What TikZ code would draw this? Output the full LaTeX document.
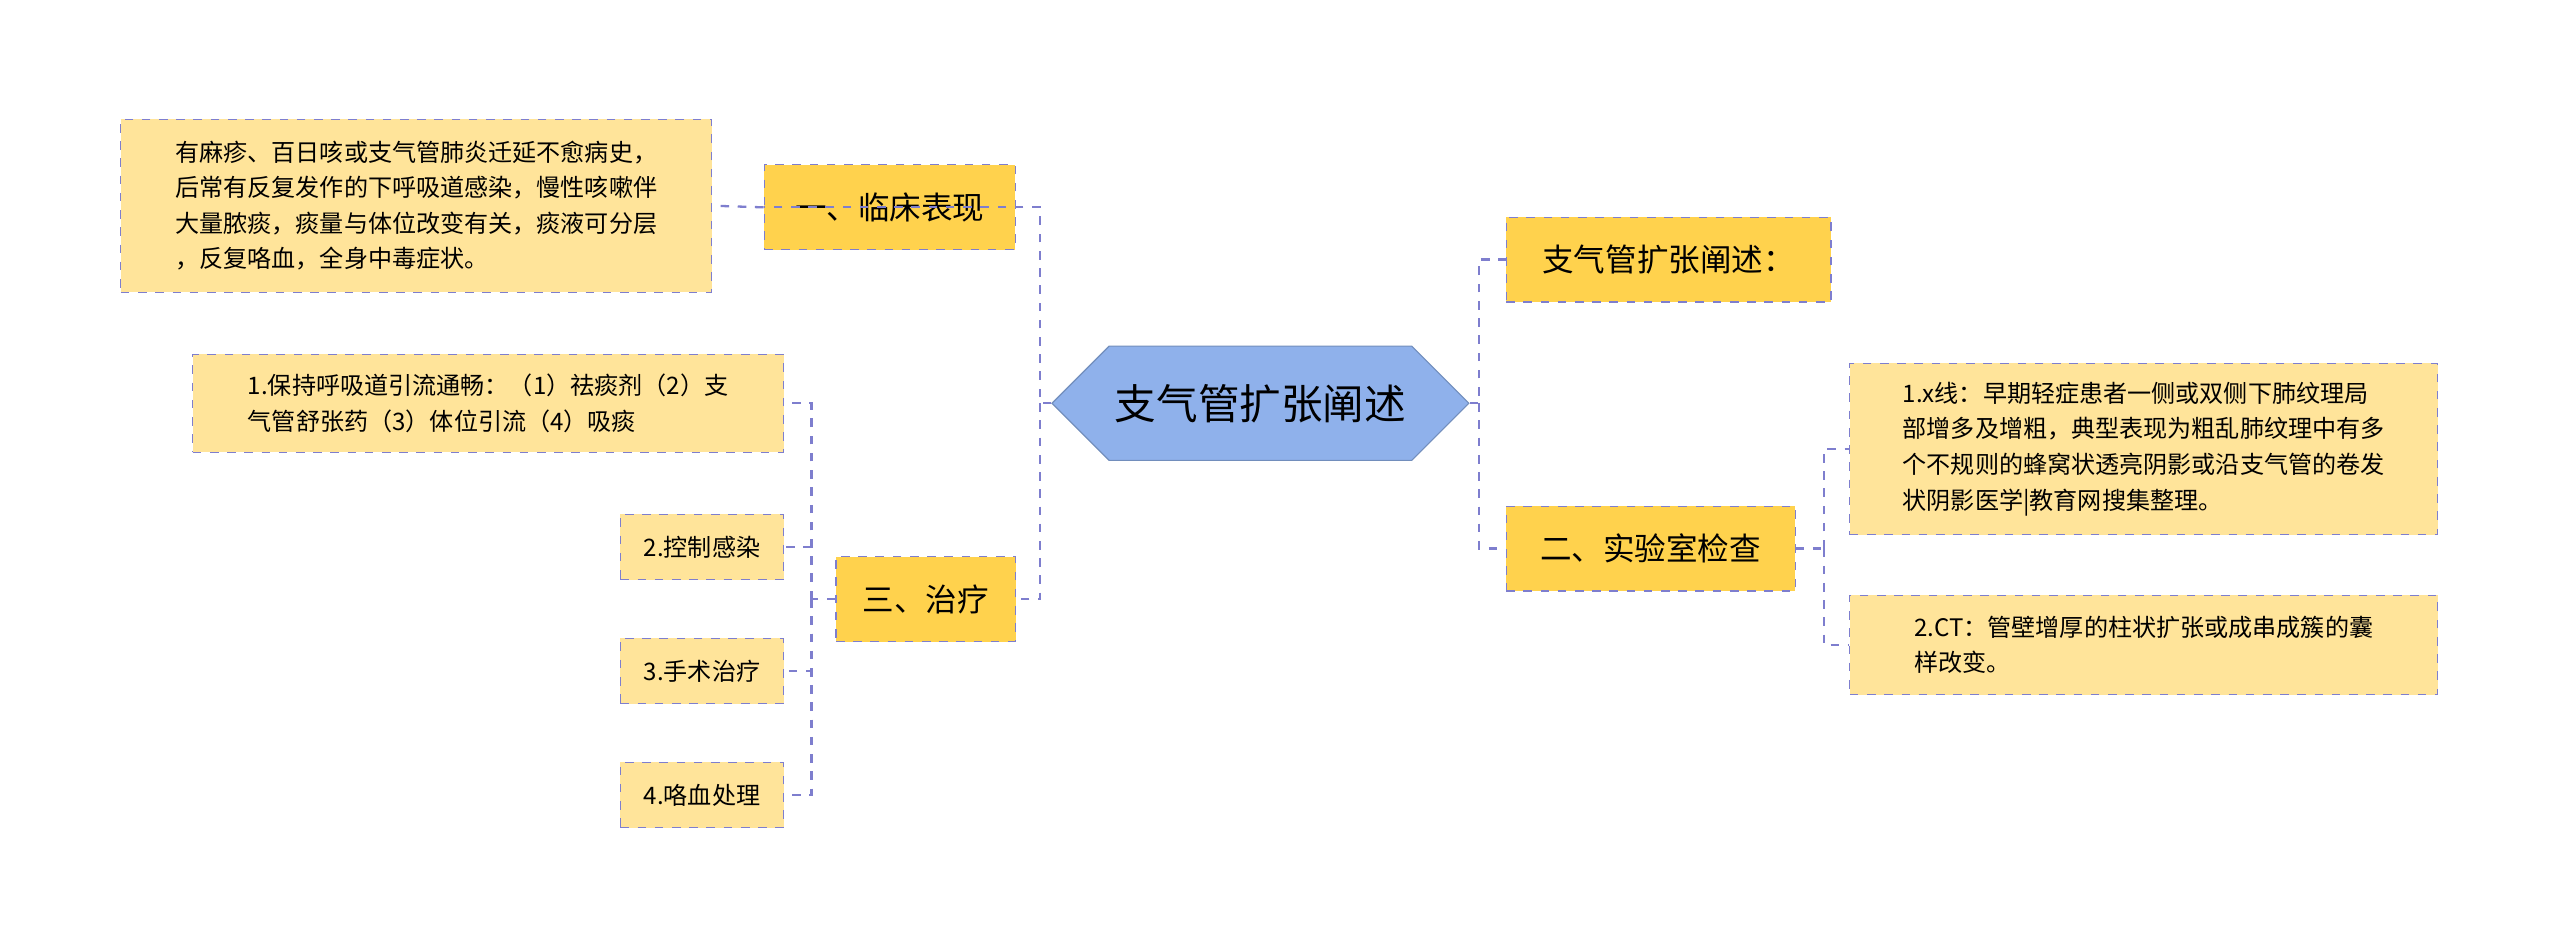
\documentclass[tikz,border=0pt]{standalone}
\usepackage{fontspec}
\setmainfont{Noto Sans CJK SC}
\usetikzlibrary{shapes.symbols}
\colorlet{linkcol}{blue!45!gray!70}
\definecolor{topfill}{HTML}{FFD24D}
\definecolor{leaffill}{HTML}{FFE49A}
\definecolor{rootfill}{HTML}{8FB1EB}
\tikzset{
  rootbox/.style={signal,signal to=west and east,fill=rootfill,draw=rootfill!80!black,
    minimum width=4.7cm,minimum height=1.4cm,font=\fontsize{14.5}{16}\selectfont,inner sep=2pt},
  topic/.style={draw=linkcol,dashed,fill=topfill,font=\fontsize{11}{13}\selectfont,
    minimum height=1.04cm,inner sep=4pt},
  leaf/.style={draw=linkcol,dashed,fill=leaffill,font=\fontsize{8.4}{12.4}\selectfont,
    align=left,inner sep=5pt,minimum height=0.8cm},
  link/.style={draw=linkcol,dashed,thick}
}
\begin{document}
\begin{tikzpicture}[x=0.02cm,y=-0.02cm]
  \useasboundingbox (0,0) rectangle (1568,581);

  % ROOT
  \node[rootbox] (root) at (772,247) {支气管扩张阐述};

  % LEFT BRANCHES
  \node[topic,minimum width=3.08cm] (clin) at (545,127) {一、临床表现};
  \node[leaf,minimum width=7.24cm,minimum height=2.12cm] (clintxt) at (255,126)
    {有麻疹、百日咳或支气管肺炎迁延不愈病史，\\后常有反复发作的下呼吸道感染，慢性咳嗽伴\\大量脓痰，痰量与体位改变有关，痰液可分层\\，反复咯血，全身中毒症状。};
  \node[topic,minimum width=2.2cm] (treat) at (567,367) {三、治疗};
  \node[leaf,minimum width=7.24cm,minimum height=1.2cm] (t1) at (299,247)
    {1.保持呼吸道引流通畅：（1）祛痰剂（2）支\\气管舒张药（3）体位引流（4）吸痰};
  \node[leaf,minimum width=2cm] (t2) at (430,335) {2.控制感染};
  \node[leaf,minimum width=2cm] (t3) at (430,411) {3.手术治疗};
  \node[leaf,minimum width=2cm] (t4) at (430,487) {4.咯血处理};

  % RIGHT BRANCHES
  \node[topic,minimum width=3.98cm] (desc) at (1022,159) {支气管扩张阐述：};
  \node[topic,minimum width=3.54cm] (lab) at (1011,336) {二、实验室检查};
  \node[leaf,minimum width=7.2cm,minimum height=2.1cm] (l1) at (1313,275)
    {1.x线：早期轻症患者一侧或双侧下肺纹理局\\部增多及增粗，典型表现为粗乱肺纹理中有多\\个不规则的蜂窝状透亮阴影或沿支气管的卷发\\状阴影医学|教育网搜集整理。};
  \node[leaf,minimum width=7.2cm,minimum height=1.22cm] (l2) at (1313,395)
    {2.CT：管壁增厚的柱状扩张或成串成簇的囊\\样改变。};

  % LINKS
  \coordinate (jl) at (637,247);
  \draw[link] (root.west) -- (jl) |- (clin.west);
  \draw[link] (jl) |- (treat.east);
  \draw[link] (clin.west) -- (clintxt.east);
  \coordinate (jt) at (497,367);
  \draw[link] (treat.west) -- (jt);
  \foreach \n in {t1,t2,t3,t4}{
    \draw[link] (jt) |- (\n.east);
  }
  \coordinate (jr) at (906,247);
  \draw[link] (root.east) -- (jr) |- (desc.west);
  \draw[link] (jr) |- (lab.west);
  \coordinate (jb) at (1117,336);
  \draw[link] (lab.east) -- (jb);
  \draw[link] (jb) |- (l1.west);
  \draw[link] (jb) |- (l2.west);
\end{tikzpicture}
\end{document}
